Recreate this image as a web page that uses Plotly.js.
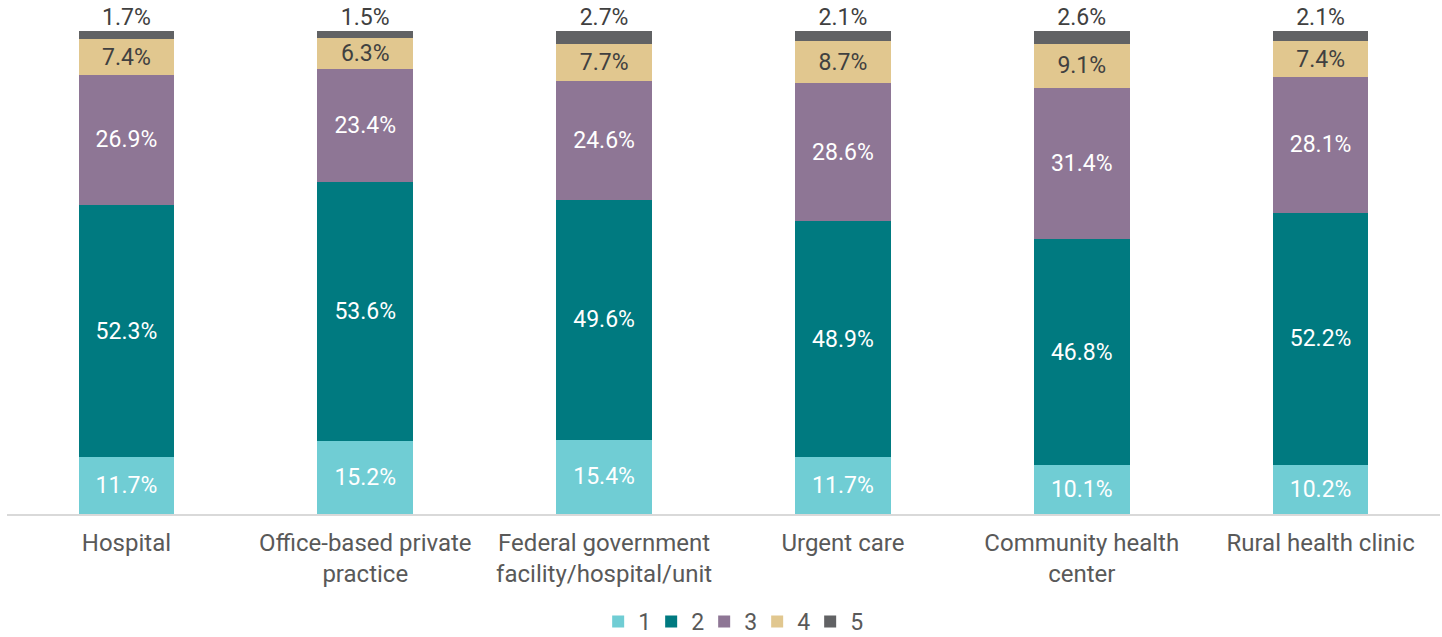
<!DOCTYPE html>
<html><head><meta charset="utf-8">
<script src="https://cdn.plot.ly/plotly-3.0.1.min.js"></script>
<style>html,body{margin:0;padding:0;background:#fff}#chart{width:1442px;height:637px}</style>
</head><body><div id="chart"></div>
<script>
const categories = ["Hospital", "Office-based private<br>practice", "Federal government<br>facility/hospital/unit", "Urgent care", "Community health<br>center", "Rural health clinic"];
const series1 = [11.7, 15.2, 15.4, 11.7, 10.1, 10.2];
const series2 = [52.3, 53.6, 49.6, 48.9, 46.8, 52.2];
const series3 = [26.9, 23.4, 24.6, 28.6, 31.4, 28.1];
const series4 = [7.4, 6.3, 7.7, 8.7, 9.1, 7.4];
const series5 = [1.7, 1.5, 2.7, 2.1, 2.6, 2.1];
const seriesNames = ["1", "2", "3", "4", "5"];
const allSeries = [series1, series2, series3, series4, series5];
const colors = ["#70CDD4", "#007A80", "#8E7695", "#E1C78F", "#616264"];
const textColors = ["#ffffff", "#ffffff", "#ffffff", "#404040", "#404040"];

const traces = allSeries.map((vals, i) => ({
  type: "bar",
  name: seriesNames[i],
  x: categories,
  y: vals,
  marker: {color: colors[i]},
  text: i === 4 ? undefined : vals.map(v => v.toFixed(1) + "%"),
  textposition: i === 4 ? "none" : "inside",
  insidetextanchor: "middle",
  textangle: 0,
  constraintext: "none",
  cliponaxis: false,
  textfont: {family: "Roboto", size: 23, color: textColors[i]},
  hoverinfo: "skip"
}));

// labels for the top segment, placed above each stack
const totals = categories.map((c, k) => Math.round(allSeries.reduce((s, arr) => s + arr[k], 0) * 10) / 10);
traces.push({
  type: "scatter", mode: "text",
  x: categories, y: totals,
  text: series5.map(v => v.toFixed(1) + "%"),
  textposition: "top center",
  textfont: {family: "Roboto", size: 23, color: "#404040"},
  showlegend: false, cliponaxis: false, hoverinfo: "skip"
});

const layout = {
  barmode: "stack",
  bargap: 0.6,
  width: 1442, height: 637,
  margin: {l: 7, r: 2, t: 31, b: 123, autoexpand: false},
  paper_bgcolor: "#fff", plot_bgcolor: "#fff",
  font: {family: "Roboto", color: "#595959"},
  xaxis: {
    showline: true, linecolor: "#d9d9d9", linewidth: 2,
    tickfont: {family: "Roboto", size: 24, color: "#595959"},
    ticks: "", fixedrange: true, automargin: false, ticklabelstandoff: 6
  },
  yaxis: {range: [0, 100.01], visible: false, showgrid: false, zeroline: false, automargin: false},
  showlegend: true,
  legend: {
    orientation: "h", x: 0.505, xanchor: "center", xref: "paper",
    y: -0.178, yanchor: "top", yref: "paper",
    traceorder: "normal",
    font: {family: "Roboto", size: 23, color: "#595959"},
    itemwidth: 30, tracegroupgap: 0,
    entrywidth: 8, entrywidthmode: "pixels"
  }
};
Plotly.newPlot("chart", traces, layout, {displayModeBar: false, staticPlot: true});
</script></body></html>
